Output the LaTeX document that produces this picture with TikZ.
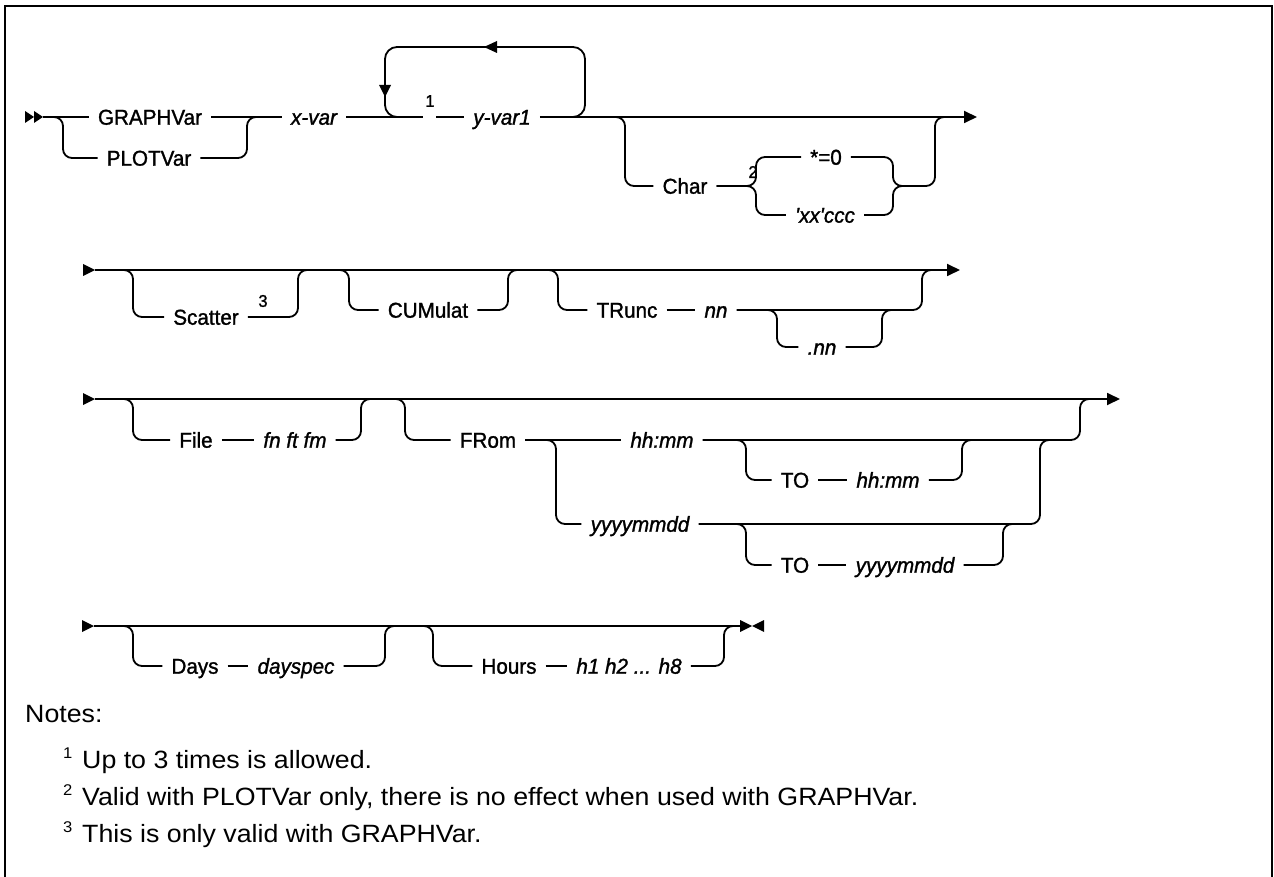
\documentclass[tikz,border=0pt]{standalone}
\usepackage{fontspec}
\setmainfont{Liberation Sans}[FakeStretch=1.07]
\newfontfamily\labfont{Liberation Sans}[FakeStretch=0.96, FakeBold=1.3]
\usetikzlibrary{arrows.meta}
\begin{document}
\begin{tikzpicture}[x=1pt,y=-1pt,
  rr/.style={line width=1.8pt, rounded corners=9pt},
  lab/.style={font=\labfont\fontsize{21.5}{24}\selectfont, inner xsep=9pt, inner ysep=0pt, text height=15.4pt, text depth=0pt, anchor=center},
  var/.style={lab, font=\labfont\fontsize{21.5}{24}\selectfont\itshape},
  supn/.style={font=\labfont\fontsize{17}{20}\selectfont, inner sep=0pt},
  note/.style={font=\fontsize{25}{28}\selectfont, anchor=base west, inner sep=0pt},
  notesup/.style={font=\fontsize{15.5}{18}\selectfont, anchor=base west, inner sep=0pt},
  mainline/.style={line width=1.8pt},
  endarrow/.style={mainline, -{Triangle[length=13pt,width=12pt]}},
  border/.style={line width=2.5pt}
]
\useasboundingbox (0,0) rectangle (1274,877);
% frame
\draw[border] (5,877) -- (5,6) -- (1272,6) -- (1272,877);

% ---------- row 1 ----------
\coordinate (s1) at (43,117);
\fill (25,111) -- (34,117) -- (25,123) -- cycle;
\fill (34,111) -- (43,117) -- (34,123) -- cycle;
\node[lab] (graph) at (150,117) {GRAPHVar};
\node[lab] (plot) at (149,158) {PLOTVar};
\node[var] (xvar) at (314,117) {x-var};
\node[supn] (n1) at (430,101) {1};
\node[var] (yvar) at (502,117) {y-var1};
\node[lab] (char) at (685,186) {Char};
\node[supn] (n2) at (753,172) {2};
\node[lab] (star) at (826,157) {*=0};
\node[var] (xx) at (825,215) {\textquotesingle xx\textquotesingle ccc};
\coordinate (g1a) at (423,117);
\coordinate (g1b) at (436,117);
\coordinate (e1) at (977,117);

\draw[mainline] (s1) -- (graph.west);
\draw[mainline] (graph.east) -- (xvar.west);
\draw[rr] (53,117) -- (63,117) -- (63,158) -- (plot.west);
\draw[rr] (plot.east) -- (247,158) -- (247,117) -- (257,117);
\draw[mainline] (xvar.east) -- (g1a);
\draw[mainline] (g1b) -- (yvar.west);
\draw[endarrow] (yvar.east) -- (e1);
% repeat loop
\draw[rr, rounded corners=12pt] (573,117) -- (585,117) -- (585,47) -- (385,47) -- (385,117) -- (397,117);
\fill (497,41) -- (484,47) -- (497,53) -- cycle;
\fill (379,85) -- (385,97) -- (391,85) -- cycle;
% Char branch
\draw[rr] (615,117) -- (625,117) -- (625,186) -- (char.west);
\draw[rr] (char.east) -- (756,186) -- (756,157) -- (star.west);
\draw[rr] (char.east) -- (756,186) -- (756,215) -- (xx.west);
\draw[rr] (star.east) -- (893,157) -- (893,186) -- (935,186) -- (935,117) -- (945,117);
\draw[rr] (xx.east) -- (893,215) -- (893,186) -- (903,186);

% ---------- row 2 ----------
\coordinate (s2) at (95,270);
\coordinate (e2) at (960,270);
\fill (83,264) -- (95,270) -- (83,276) -- cycle;
\draw[endarrow] (s2) -- (e2);
\node[lab] (scatter) at (206,317) {Scatter};
\node[supn] (n3) at (263,301) {3};
\node[lab] (cum) at (428,310) {CUMulat};
\node[lab] (trunc) at (627,310) {TRunc};
\node[var] (nn) at (716,310) {nn};
\node[var] (dnn) at (822,347) {.nn};
\draw[rr] (125,270) -- (133,270) -- (133,317) -- (scatter.west);
\draw[rr] (scatter.east) -- (298,317) -- (298,270) -- (308,270);
\draw[rr] (340,270) -- (349,270) -- (349,310) -- (cum.west);
\draw[rr] (cum.east) -- (508,310) -- (508,270) -- (517,270);
\draw[rr] (550,270) -- (558,270) -- (558,310) -- (trunc.west);
\draw[mainline] (trunc.east) -- (nn.west);
\draw[rr] (nn.east) -- (922,310) -- (922,270) -- (932,270);
\draw[rr] (770,310) -- (777,310) -- (777,347) -- (dnn.west);
\draw[rr] (dnn.east) -- (882,347) -- (882,310) -- (892,310);

% ---------- row 3 ----------
\coordinate (s3) at (95,399);
\coordinate (e3) at (1120,399);
\fill (83,393) -- (95,399) -- (83,405) -- cycle;
\draw[endarrow] (s3) -- (e3);
\node[lab] (file) at (196,440) {File};
\node[var] (fn) at (295,440) {fn ft fm};
\node[lab] (from) at (488,440) {FRom};
\node[var] (hh) at (662,440) {hh:mm};
\node[var] (yyyy) at (640,524) {yyyymmdd};
\node[lab] (to1) at (795,480) {TO};
\node[var] (hh2) at (888,480) {hh:mm};
\node[lab] (to2) at (795,565) {TO};
\node[var] (yyyy2) at (905,565) {yyyymmdd};
\draw[rr] (125,399) -- (133,399) -- (133,440) -- (file.west);
\draw[mainline] (file.east) -- (fn.west);
\draw[rr] (fn.east) -- (361,440) -- (361,399) -- (371,399);
\draw[rr] (395,399) -- (405,399) -- (405,440) -- (from.west);
\draw[mainline] (from.east) -- (hh.west);
\draw[rr] (548,440) -- (556,440) -- (556,524) -- (yyyy.west);
\draw[rr] (hh.east) -- (1080,440) -- (1080,399) -- (1089,399);
\draw[rr] (738,440) -- (746,440) -- (746,480) -- (to1.west);
\draw[mainline] (to1.east) -- (hh2.west);
\draw[rr] (hh2.east) -- (962,480) -- (962,440) -- (971,440);
\draw[rr] (yyyy.east) -- (1040,524) -- (1040,440) -- (1049,440);
\draw[rr] (738,524) -- (746,524) -- (746,565) -- (to2.west);
\draw[mainline] (to2.east) -- (yyyy2.west);
\draw[rr] (yyyy2.east) -- (1003,565) -- (1003,524) -- (1012,524);

% ---------- row 4 ----------
\coordinate (s4) at (94,626);
\coordinate (e4) at (740,626);
\fill (82,620) -- (94,626) -- (82,632) -- cycle;
\draw[mainline] (s4) -- (e4);
\fill (740,620) -- (752,626) -- (740,632) -- cycle;
\fill (764,620) -- (752,626) -- (764,632) -- cycle;
\node[lab] (days) at (195,666) {Days};
\node[var] (dayspec) at (296,666) {dayspec};
\node[lab] (hours) at (509,666) {Hours};
\node[var] (hlist) at (629,666) {h1 h2 ... h8};
\draw[rr] (122,626) -- (133,626) -- (133,666) -- (days.west);
\draw[mainline] (days.east) -- (dayspec.west);
\draw[rr] (dayspec.east) -- (385,666) -- (385,626) -- (395,626);
\draw[rr] (423,626) -- (433,626) -- (433,666) -- (hours.west);
\draw[mainline] (hours.east) -- (hlist.west);
\draw[rr] (hlist.east) -- (724,666) -- (724,626) -- (734,626);

% ---------- notes ----------
\node[note] (notes) at (25,722) {Notes:};
\node[notesup] (ns1) at (63,758) {1};
\node[note] (note1) at (82,768) {Up to 3 times is allowed.};
\node[notesup] (ns2) at (63,795) {2};
\node[note] (note2) at (82,805) {Valid with PLOTVar only, there is no effect when used with GRAPHVar.};
\node[notesup] (ns3) at (63,832) {3};
\node[note] (note3) at (82,842) {This is only valid with GRAPHVar.};
\end{tikzpicture}
\end{document}
